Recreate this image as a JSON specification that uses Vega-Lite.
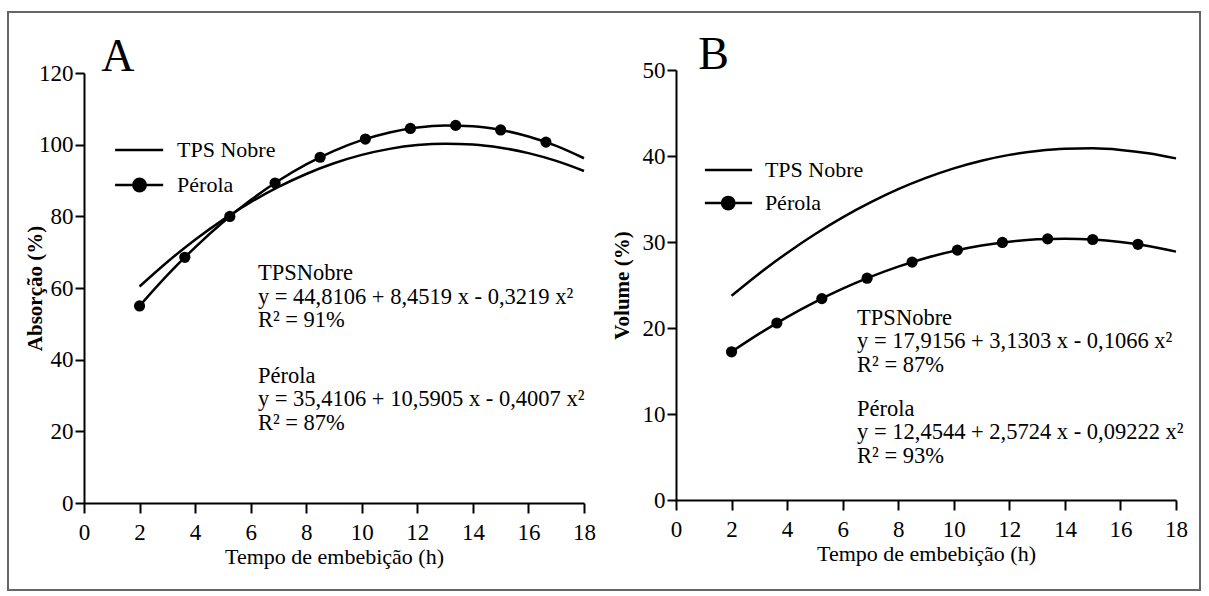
{
  "$schema": "https://vega.github.io/schema/vega-lite/v6.json",
  "width": 1192,
  "height": 578,
  "autosize": {"type": "none"},
  "padding": {"left": 8, "top": 12, "right": 9, "bottom": 6},
  "background": "white",
  "config": {
    "view": {"stroke": "#666666", "strokeWidth": 2},
    "axis": {
      "grid": false,
      "domainColor": "black",
      "domainWidth": 2,
      "tickColor": "black",
      "tickWidth": 2,
      "labelFont": "Liberation Serif",
      "labelFontSize": 23,
      "labelColor": "black",
      "labelFlush": false,
      "labelOverlap": false,
      "titleFont": "Liberation Serif",
      "titleColor": "black"
    },
    "text": {"font": "Liberation Serif", "color": "black"}
  },
  "datasets": {
    "curvesA": [
      {"x": 2, "y": 60.43, "serie": "TPS Nobre"}, {"x": 3, "y": 67.27, "serie": "TPS Nobre"}, {"x": 4, "y": 73.47, "serie": "TPS Nobre"},
      {"x": 5, "y": 79.02, "serie": "TPS Nobre"}, {"x": 6, "y": 83.93, "serie": "TPS Nobre"}, {"x": 7, "y": 88.2, "serie": "TPS Nobre"},
      {"x": 8, "y": 91.82, "serie": "TPS Nobre"}, {"x": 9, "y": 94.8, "serie": "TPS Nobre"}, {"x": 10, "y": 97.14, "serie": "TPS Nobre"},
      {"x": 11, "y": 98.83, "serie": "TPS Nobre"}, {"x": 12, "y": 99.88, "serie": "TPS Nobre"}, {"x": 13, "y": 100.28, "serie": "TPS Nobre"},
      {"x": 14, "y": 100.05, "serie": "TPS Nobre"}, {"x": 15, "y": 99.16, "serie": "TPS Nobre"}, {"x": 16, "y": 97.64, "serie": "TPS Nobre"},
      {"x": 17, "y": 95.46, "serie": "TPS Nobre"}, {"x": 18, "y": 92.65, "serie": "TPS Nobre"},
      {"x": 2, "y": 54.99, "serie": "Pérola"}, {"x": 3, "y": 63.58, "serie": "Pérola"}, {"x": 4, "y": 71.36, "serie": "Pérola"},
      {"x": 5, "y": 78.35, "serie": "Pérola"}, {"x": 6, "y": 84.53, "serie": "Pérola"}, {"x": 7, "y": 89.91, "serie": "Pérola"},
      {"x": 8, "y": 94.49, "serie": "Pérola"}, {"x": 9, "y": 98.27, "serie": "Pérola"}, {"x": 10, "y": 101.25, "serie": "Pérola"},
      {"x": 11, "y": 103.42, "serie": "Pérola"}, {"x": 12, "y": 104.8, "serie": "Pérola"}, {"x": 13, "y": 105.37, "serie": "Pérola"},
      {"x": 14, "y": 105.14, "serie": "Pérola"}, {"x": 15, "y": 104.11, "serie": "Pérola"}, {"x": 16, "y": 102.28, "serie": "Pérola"},
      {"x": 17, "y": 99.65, "serie": "Pérola"}, {"x": 18, "y": 96.21, "serie": "Pérola"}
    ],
    "pointsA": [
      {"x": 2, "y": 54.99}, {"x": 3.63, "y": 68.57}, {"x": 5.25, "y": 79.97}, {"x": 6.88, "y": 89.31}, {"x": 8.5, "y": 96.48},
      {"x": 10.13, "y": 101.57}, {"x": 11.75, "y": 104.53}, {"x": 13.38, "y": 105.38}, {"x": 15, "y": 104.11}, {"x": 16.63, "y": 100.71}
    ],
    "curvesB": [
      {"x": 2, "y": 23.75, "serie": "TPS Nobre"}, {"x": 3, "y": 26.35, "serie": "TPS Nobre"}, {"x": 4, "y": 28.73, "serie": "TPS Nobre"},
      {"x": 5, "y": 30.9, "serie": "TPS Nobre"}, {"x": 6, "y": 32.86, "serie": "TPS Nobre"}, {"x": 7, "y": 34.6, "serie": "TPS Nobre"},
      {"x": 8, "y": 36.14, "serie": "TPS Nobre"}, {"x": 9, "y": 37.45, "serie": "TPS Nobre"}, {"x": 10, "y": 38.56, "serie": "TPS Nobre"},
      {"x": 11, "y": 39.45, "serie": "TPS Nobre"}, {"x": 12, "y": 40.13, "serie": "TPS Nobre"}, {"x": 13, "y": 40.59, "serie": "TPS Nobre"},
      {"x": 14, "y": 40.85, "serie": "TPS Nobre"}, {"x": 15, "y": 40.89, "serie": "TPS Nobre"}, {"x": 16, "y": 40.71, "serie": "TPS Nobre"},
      {"x": 17, "y": 40.32, "serie": "TPS Nobre"}, {"x": 18, "y": 39.72, "serie": "TPS Nobre"},
      {"x": 2, "y": 17.23, "serie": "Pérola"}, {"x": 3, "y": 19.34, "serie": "Pérola"}, {"x": 4, "y": 21.27, "serie": "Pérola"},
      {"x": 5, "y": 23.01, "serie": "Pérola"}, {"x": 6, "y": 24.57, "serie": "Pérola"}, {"x": 7, "y": 25.94, "serie": "Pérola"},
      {"x": 8, "y": 27.13, "serie": "Pérola"}, {"x": 9, "y": 28.14, "serie": "Pérola"}, {"x": 10, "y": 28.96, "serie": "Pérola"},
      {"x": 11, "y": 29.59, "serie": "Pérola"}, {"x": 12, "y": 30.04, "serie": "Pérola"}, {"x": 13, "y": 30.31, "serie": "Pérola"},
      {"x": 14, "y": 30.39, "serie": "Pérola"}, {"x": 15, "y": 30.29, "serie": "Pérola"}, {"x": 16, "y": 30.0, "serie": "Pérola"},
      {"x": 17, "y": 29.53, "serie": "Pérola"}, {"x": 18, "y": 28.88, "serie": "Pérola"}
    ],
    "pointsB": [
      {"x": 2, "y": 17.23}, {"x": 3.63, "y": 20.58}, {"x": 5.25, "y": 23.42}, {"x": 6.88, "y": 25.79}, {"x": 8.5, "y": 27.66},
      {"x": 10.13, "y": 29.05}, {"x": 11.75, "y": 29.95}, {"x": 13.38, "y": 30.36}, {"x": 15, "y": 30.29}, {"x": 16.63, "y": 29.73}
    ],
    "panelA": [{"label": "A"}],
    "panelB": [{"label": "B"}],
    "legTPS": [{"label": "TPS Nobre"}],
    "legPer": [{"label": "Pérola"}],
    "eqA1": [{"lines": ["TPSNobre", "y = 44,8106 + 8,4519 x - 0,3219 x²", "R² = 91%"]}],
    "eqA2": [{"lines": ["Pérola", "y = 35,4106 + 10,5905 x - 0,4007 x²", "R² = 87%"]}],
    "eqB1": [{"lines": ["TPSNobre", "y = 17,9156 + 3,1303 x - 0,1066 x²", "R² = 87%"]}],
    "eqB2": [{"lines": ["Pérola", "y = 12,4544 + 2,5724 x - 0,09222 x²", "R² = 93%"]}]
  },
  "resolve": {"scale": {"x": "independent", "y": "independent"}, "axis": {"x": "independent", "y": "independent"}},
  "layer": [
    {
      "data": {"name": "curvesA"},
      "mark": {"type": "line", "interpolate": "monotone", "stroke": "black", "strokeWidth": 2.5},
      "encoding": {
        "x": {"field": "x", "type": "quantitative",
          "scale": {"domain": [0, 18], "range": [76, 576], "nice": false, "zero": false},
          "axis": {"orient": "bottom", "offset": -87, "values": [0, 2, 4, 6, 8, 10, 12, 14, 16, 18], "tickSize": 10, "labelPadding": 8,
            "title": "Tempo de embebição (h)", "titleFontSize": 22, "titleFontWeight": "normal", "titleBaseline": "alphabetic", "titleY": 60}},
        "y": {"field": "y", "type": "quantitative",
          "scale": {"domain": [0, 120], "range": [491, 61], "nice": false},
          "axis": {"orient": "left", "offset": -76, "values": [0, 20, 40, 60, 80, 100, 120], "tickSize": 9, "labelPadding": 2,
            "title": "Absorção (%)", "titleFontSize": 21, "titleFontWeight": "bold", "titleBaseline": "alphabetic", "titleX": -43}},
        "detail": {"field": "serie", "type": "nominal"}
      }
    },
    {
      "data": {"name": "pointsA"},
      "mark": {"type": "point", "filled": true, "color": "black", "opacity": 1, "size": 125},
      "encoding": {
        "x": {"field": "x", "type": "quantitative", "scale": {"domain": [0, 18], "range": [76, 576], "nice": false, "zero": false}, "axis": null},
        "y": {"field": "y", "type": "quantitative", "scale": {"domain": [0, 120], "range": [491, 61], "nice": false}, "axis": null}
      }
    },
    {
      "data": {"name": "panelA"},
      "mark": {"type": "text", "font": "Liberation Serif", "fontSize": 46, "align": "left", "baseline": "alphabetic"},
      "encoding": {
        "x": {"datum": 0.62, "type": "quantitative", "scale": {"domain": [0, 18], "range": [76, 576], "nice": false, "zero": false}, "axis": null},
        "y": {"datum": 120.6, "type": "quantitative", "scale": {"domain": [0, 120], "range": [491, 61], "nice": false}, "axis": null},
        "text": {"field": "label", "type": "nominal"}
      }
    },
    {
      "data": {"name": "legTPS"},
      "mark": {"type": "rule", "color": "black", "strokeWidth": 2.5},
      "encoding": {
        "x": {"datum": 1.12, "type": "quantitative", "scale": {"domain": [0, 18], "range": [76, 576], "nice": false, "zero": false}, "axis": null},
        "x2": {"datum": 2.85},
        "y": {"datum": 98.5, "type": "quantitative", "scale": {"domain": [0, 120], "range": [491, 61], "nice": false}, "axis": null}
      }
    },
    {
      "data": {"name": "legPer"},
      "mark": {"type": "rule", "color": "black", "strokeWidth": 2.5},
      "encoding": {
        "x": {"datum": 1.12, "type": "quantitative", "scale": {"domain": [0, 18], "range": [76, 576], "nice": false, "zero": false}, "axis": null},
        "x2": {"datum": 2.85},
        "y": {"datum": 88.75, "type": "quantitative", "scale": {"domain": [0, 120], "range": [491, 61], "nice": false}, "axis": null}
      }
    },
    {
      "data": {"name": "legPer"},
      "mark": {"type": "point", "filled": true, "color": "black", "opacity": 1, "size": 220},
      "encoding": {
        "x": {"datum": 2.0, "type": "quantitative", "scale": {"domain": [0, 18], "range": [76, 576], "nice": false, "zero": false}, "axis": null},
        "y": {"datum": 88.75, "type": "quantitative", "scale": {"domain": [0, 120], "range": [491, 61], "nice": false}, "axis": null}
      }
    },
    {
      "data": {"name": "legTPS"},
      "mark": {"type": "text", "font": "Liberation Serif", "fontSize": 22, "align": "left", "baseline": "middle"},
      "encoding": {
        "x": {"datum": 3.35, "type": "quantitative", "scale": {"domain": [0, 18], "range": [76, 576], "nice": false, "zero": false}, "axis": null},
        "y": {"datum": 98.5, "type": "quantitative", "scale": {"domain": [0, 120], "range": [491, 61], "nice": false}, "axis": null},
        "text": {"field": "label", "type": "nominal"}
      }
    },
    {
      "data": {"name": "legPer"},
      "mark": {"type": "text", "font": "Liberation Serif", "fontSize": 22, "align": "left", "baseline": "middle"},
      "encoding": {
        "x": {"datum": 3.35, "type": "quantitative", "scale": {"domain": [0, 18], "range": [76, 576], "nice": false, "zero": false}, "axis": null},
        "y": {"datum": 88.75, "type": "quantitative", "scale": {"domain": [0, 120], "range": [491, 61], "nice": false}, "axis": null},
        "text": {"field": "label", "type": "nominal"}
      }
    },
    {
      "data": {"name": "eqA1"},
      "mark": {"type": "text", "font": "Liberation Serif", "fontSize": 22.5, "align": "left", "baseline": "alphabetic", "lineHeight": 23.5},
      "encoding": {
        "x": {"datum": 6.26, "type": "quantitative", "scale": {"domain": [0, 18], "range": [76, 576], "nice": false, "zero": false}, "axis": null},
        "y": {"datum": 62.2, "type": "quantitative", "scale": {"domain": [0, 120], "range": [491, 61], "nice": false}, "axis": null},
        "text": {"field": "lines", "type": "nominal"}
      }
    },
    {
      "data": {"name": "eqA2"},
      "mark": {"type": "text", "font": "Liberation Serif", "fontSize": 22.5, "align": "left", "baseline": "alphabetic", "lineHeight": 23.5},
      "encoding": {
        "x": {"datum": 6.26, "type": "quantitative", "scale": {"domain": [0, 18], "range": [76, 576], "nice": false, "zero": false}, "axis": null},
        "y": {"datum": 33.5, "type": "quantitative", "scale": {"domain": [0, 120], "range": [491, 61], "nice": false}, "axis": null},
        "text": {"field": "lines", "type": "nominal"}
      }
    },
    {
      "data": {"name": "curvesB"},
      "mark": {"type": "line", "interpolate": "monotone", "stroke": "black", "strokeWidth": 2.5},
      "encoding": {
        "x": {"field": "x", "type": "quantitative",
          "scale": {"domain": [0, 18], "range": [668, 1168], "nice": false, "zero": false},
          "axis": {"orient": "bottom", "offset": -90, "values": [0, 2, 4, 6, 8, 10, 12, 14, 16, 18], "tickSize": 10, "labelPadding": 8,
            "title": "Tempo de embebição (h)", "titleFontSize": 22, "titleFontWeight": "normal", "titleBaseline": "alphabetic", "titleY": 60}},
        "y": {"field": "y", "type": "quantitative",
          "scale": {"domain": [0, 50], "range": [488, 58], "nice": false},
          "axis": {"orient": "left", "offset": -668, "values": [0, 10, 20, 30, 40, 50], "tickSize": 9, "labelPadding": 2,
            "title": "Volume (%)", "titleFontSize": 21, "titleFontWeight": "bold", "titleBaseline": "alphabetic", "titleX": -48}},
        "detail": {"field": "serie", "type": "nominal"}
      }
    },
    {
      "data": {"name": "pointsB"},
      "mark": {"type": "point", "filled": true, "color": "black", "opacity": 1, "size": 125},
      "encoding": {
        "x": {"field": "x", "type": "quantitative", "scale": {"domain": [0, 18], "range": [668, 1168], "nice": false, "zero": false}, "axis": null},
        "y": {"field": "y", "type": "quantitative", "scale": {"domain": [0, 50], "range": [488, 58], "nice": false}, "axis": null}
      }
    },
    {
      "data": {"name": "panelB"},
      "mark": {"type": "text", "font": "Liberation Serif", "fontSize": 46, "align": "left", "baseline": "alphabetic"},
      "encoding": {
        "x": {"datum": 0.8, "type": "quantitative", "scale": {"domain": [0, 18], "range": [668, 1168], "nice": false, "zero": false}, "axis": null},
        "y": {"datum": 50.1, "type": "quantitative", "scale": {"domain": [0, 50], "range": [488, 58], "nice": false}, "axis": null},
        "text": {"field": "label", "type": "nominal"}
      }
    },
    {
      "data": {"name": "legTPS"},
      "mark": {"type": "rule", "color": "black", "strokeWidth": 2.5},
      "encoding": {
        "x": {"datum": 1.04, "type": "quantitative", "scale": {"domain": [0, 18], "range": [668, 1168], "nice": false, "zero": false}, "axis": null},
        "x2": {"datum": 2.74},
        "y": {"datum": 38.37, "type": "quantitative", "scale": {"domain": [0, 50], "range": [488, 58], "nice": false}, "axis": null}
      }
    },
    {
      "data": {"name": "legPer"},
      "mark": {"type": "rule", "color": "black", "strokeWidth": 2.5},
      "encoding": {
        "x": {"datum": 1.04, "type": "quantitative", "scale": {"domain": [0, 18], "range": [668, 1168], "nice": false, "zero": false}, "axis": null},
        "x2": {"datum": 2.74},
        "y": {"datum": 34.53, "type": "quantitative", "scale": {"domain": [0, 50], "range": [488, 58], "nice": false}, "axis": null}
      }
    },
    {
      "data": {"name": "legPer"},
      "mark": {"type": "point", "filled": true, "color": "black", "opacity": 1, "size": 220},
      "encoding": {
        "x": {"datum": 1.88, "type": "quantitative", "scale": {"domain": [0, 18], "range": [668, 1168], "nice": false, "zero": false}, "axis": null},
        "y": {"datum": 34.53, "type": "quantitative", "scale": {"domain": [0, 50], "range": [488, 58], "nice": false}, "axis": null}
      }
    },
    {
      "data": {"name": "legTPS"},
      "mark": {"type": "text", "font": "Liberation Serif", "fontSize": 22, "align": "left", "baseline": "middle"},
      "encoding": {
        "x": {"datum": 3.2, "type": "quantitative", "scale": {"domain": [0, 18], "range": [668, 1168], "nice": false, "zero": false}, "axis": null},
        "y": {"datum": 38.37, "type": "quantitative", "scale": {"domain": [0, 50], "range": [488, 58], "nice": false}, "axis": null},
        "text": {"field": "label", "type": "nominal"}
      }
    },
    {
      "data": {"name": "legPer"},
      "mark": {"type": "text", "font": "Liberation Serif", "fontSize": 22, "align": "left", "baseline": "middle"},
      "encoding": {
        "x": {"datum": 3.2, "type": "quantitative", "scale": {"domain": [0, 18], "range": [668, 1168], "nice": false, "zero": false}, "axis": null},
        "y": {"datum": 34.53, "type": "quantitative", "scale": {"domain": [0, 50], "range": [488, 58], "nice": false}, "axis": null},
        "text": {"field": "label", "type": "nominal"}
      }
    },
    {
      "data": {"name": "eqB1"},
      "mark": {"type": "text", "font": "Liberation Serif", "fontSize": 22.5, "align": "left", "baseline": "alphabetic", "lineHeight": 23.5},
      "encoding": {
        "x": {"datum": 6.52, "type": "quantitative", "scale": {"domain": [0, 18], "range": [668, 1168], "nice": false, "zero": false}, "axis": null},
        "y": {"datum": 20.35, "type": "quantitative", "scale": {"domain": [0, 50], "range": [488, 58], "nice": false}, "axis": null},
        "text": {"field": "lines", "type": "nominal"}
      }
    },
    {
      "data": {"name": "eqB2"},
      "mark": {"type": "text", "font": "Liberation Serif", "fontSize": 22.5, "align": "left", "baseline": "alphabetic", "lineHeight": 23.5},
      "encoding": {
        "x": {"datum": 6.52, "type": "quantitative", "scale": {"domain": [0, 18], "range": [668, 1168], "nice": false, "zero": false}, "axis": null},
        "y": {"datum": 9.77, "type": "quantitative", "scale": {"domain": [0, 50], "range": [488, 58], "nice": false}, "axis": null},
        "text": {"field": "lines", "type": "nominal"}
      }
    }
  ]
}
